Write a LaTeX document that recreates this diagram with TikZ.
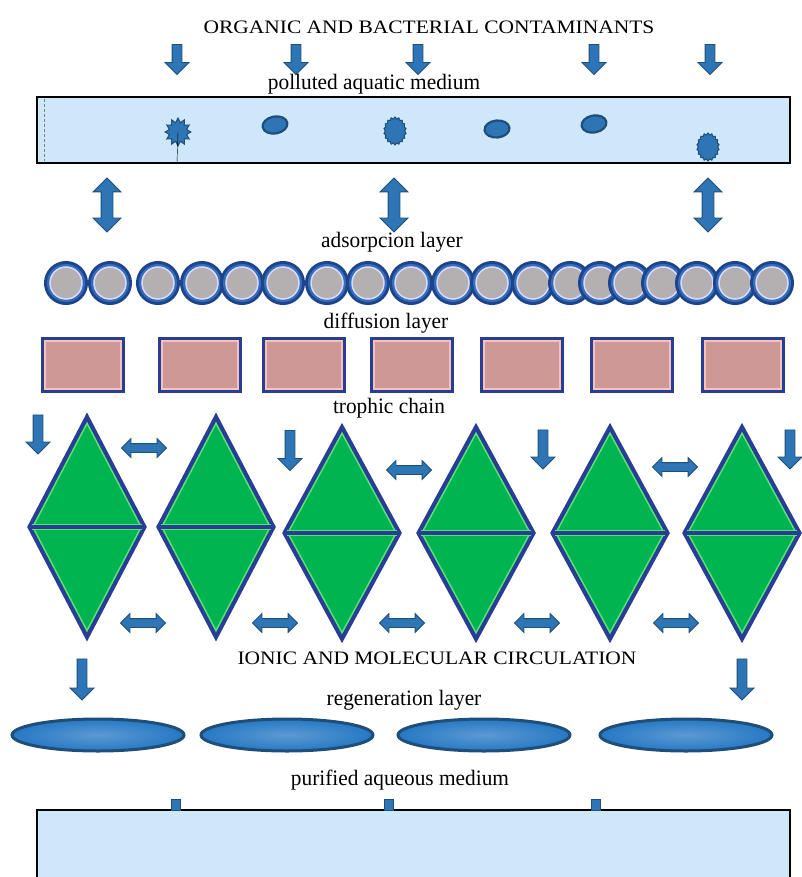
\documentclass[tikz,border=0pt]{standalone}
\usepackage{fontspec}
\setmainfont{Liberation Serif}
\usetikzlibrary{shapes.arrows, shapes.geometric}

\definecolor{waterblue}{RGB}{206,232,250}
\definecolor{arrowblue}{RGB}{46,117,182}
\definecolor{arrowline}{RGB}{31,78,121}
\definecolor{ringblue}{RGB}{30,68,140}
\definecolor{ringmid}{RGB}{50,110,185}
\definecolor{beadgray}{RGB}{180,176,178}
\definecolor{rosefill}{RGB}{205,152,150}
\definecolor{roseline}{RGB}{245,195,185}
\definecolor{leafgreen}{RGB}{0,180,80}
\definecolor{lightleaf}{RGB}{90,225,115}
\definecolor{edgeblue}{RGB}{40,62,150}
\definecolor{ovalblue}{RGB}{38,120,196}

\tikzset{
  capslbl/.style={font=\fontsize{19}{19}\selectfont, xscale=1.13, inner sep=0pt},
  lbl/.style={font=\fontsize{22}{22}\selectfont, xscale=0.97, inner sep=0pt},
  dnarrow/.style={single arrow, rotate=-90, draw=arrowline, fill=arrowblue,
    line width=0.8pt, inner xsep=0pt, inner ysep=4.5pt, minimum width=23,
    single arrow head extend=7, minimum height=#1},
  dnarrow/.default=30,
  vdarrow/.style={double arrow, rotate=90, draw=arrowline, fill=arrowblue,
    line width=0.8pt, inner xsep=0pt, inner ysep=5.5pt, minimum width=27,
    double arrow head extend=8, minimum height=54},
  hdarrow/.style={double arrow, draw=arrowline, fill=arrowblue,
    line width=0.8pt, inner xsep=0pt, inner ysep=4pt, minimum width=18,
    double arrow head extend=5, minimum height=45},
  blob/.style={ellipse, draw=arrowline, fill=arrowblue, line width=2.2pt,
    minimum width=25, minimum height=17, inner sep=0pt, rotate=10},
  spiky/.style={star, star points=18, star point ratio=1.15, draw=arrowline,
    fill=arrowblue, line width=1pt, minimum size=28, inner sep=0pt, xscale=0.8},
  bead/.style={circle, minimum size=32, inner sep=0pt, fill=beadgray,
    draw=white!85!blue, line width=1.5pt,
    preaction={draw=ringblue, line width=12pt},
    preaction={draw=ringmid, line width=6pt}},
  cell/.style={rectangle, minimum width=76, minimum height=48, inner sep=0pt,
    fill=rosefill, draw=roseline, line width=1.2pt,
    preaction={draw=edgeblue, line width=8pt}},
  lozenge/.style={diamond, minimum width=109, minimum height=#1, inner sep=0pt,
    fill=leafgreen, draw=lightleaf, line width=1.5pt,
    preaction={draw=edgeblue, line width=10pt}},
  midbar/.style={draw=lightleaf, line width=1.2pt, double=edgeblue, double distance=4pt},
  oval/.style={ellipse, minimum width=172, minimum height=32, inner sep=0pt,
    inner color=ovalblue!75!white, outer color=ovalblue, draw=arrowline, line width=3pt},
  tab/.style={rectangle, minimum width=9, minimum height=11, inner sep=0pt,
    fill=arrowblue, draw=arrowline, line width=0.8pt}
}

\begin{document}
\begin{tikzpicture}[x=1pt, y=-1pt]
  \useasboundingbox (0,0) rectangle (802,877);

  % contaminants falling in
  \node[capslbl] (title) at (429,27) {ORGANIC AND BACTERIAL CONTAMINANTS};
  \foreach \x [count=\i] in {177,296,418,594,710}
    \node[dnarrow] (in\i) at (\x,57) {};
  \node[lbl] (polluted) at (374,84) {polluted aquatic medium};

  % polluted water
  \draw[fill=waterblue, line width=1.6pt] (37,97) rectangle (790,163);
  \draw[densely dashed, very thin, gray] (44,99) -- (44,161);
  \node[spiky, star points=12, star point ratio=1.45, xscale=1.15] (germ1) at (178,132) {};
  \draw[thin] (germ1.center) -- (177,163);
  \node[blob] (germ2) at (275,125) {};
  \node[spiky] (germ3) at (395,131) {};
  \node[blob, rotate=-5] (germ4) at (497,129) {};
  \node[blob] (germ5) at (594,124) {};
  \node[spiky] (germ6) at (708,147) {};

  \foreach \x [count=\i] in {107,394,708}
    \node[vdarrow] (swap\i) at (\x,205) {};

  % adsorpcion layer
  \node[lbl] (adsorb) at (392,242) {adsorpcion layer};
  \foreach \x [count=\i] in {66,110,158,202,242,283,327,368,411,453,492,533,570,600,630,663,697,735,772}
    \node[bead] (bead\i) at (\x,283) {};

  % diffusion layer
  \node[lbl] (diffuse) at (386,323) {diffusion layer};
  \foreach \x [count=\i] in {83,200,304,412,522,632,743}
    \node[cell] (cell\i) at (\x,365) {};

  % trophic chain
  \node[lbl] (trophic) at (389,408) {trophic chain};
  \foreach \x/\y/\h [count=\i] in {87/527/208, 216/527/208, 342/533/200, 476/533/200, 610/533/200, 742/533/200}
  {
    \node[lozenge=\h] (d\i) at (\x,\y) {};
    \draw[midbar] (d\i.west) -- (d\i.east);
  }
  \node[dnarrow=39] (feed1) at (38,432) {};
  \node[dnarrow=40] (feed2) at (290,448) {};
  \node[dnarrow=39] (feed3) at (543,447) {};
  \node[dnarrow=39] (feed4) at (790,447) {};
  \foreach \x/\y [count=\i] in {144/448, 409/470, 675/467}
    \node[hdarrow] (up\i) at (\x,\y) {};
  \foreach \x [count=\i] in {143,275,402,537,676}
    \node[hdarrow] (low\i) at (\x,623) {};

  % circulation and regeneration
  \node[capslbl] (ionic) at (437,658) {IONIC AND MOLECULAR CIRCULATION};
  \node[dnarrow=41] (out1) at (82,677) {};
  \node[dnarrow=41] (out2) at (742,677) {};
  \node[lbl] (regen) at (404,700) {regeneration layer};
  \foreach \x [count=\i] in {98,287,484,686}
    \node[oval] (regen\i) at (\x,735) {};

  % purified water
  \node[lbl] (purified) at (400,780) {purified aqueous medium};
  \fill[waterblue] (37,810) rectangle (790,880);
  \draw[line width=1.6pt] (37,880) |- (790,810) -- (790,880);
  \foreach \x [count=\i] in {176,389,596}
    \node[tab] (drop\i) at (\x,805) {};
\end{tikzpicture}
\end{document}
